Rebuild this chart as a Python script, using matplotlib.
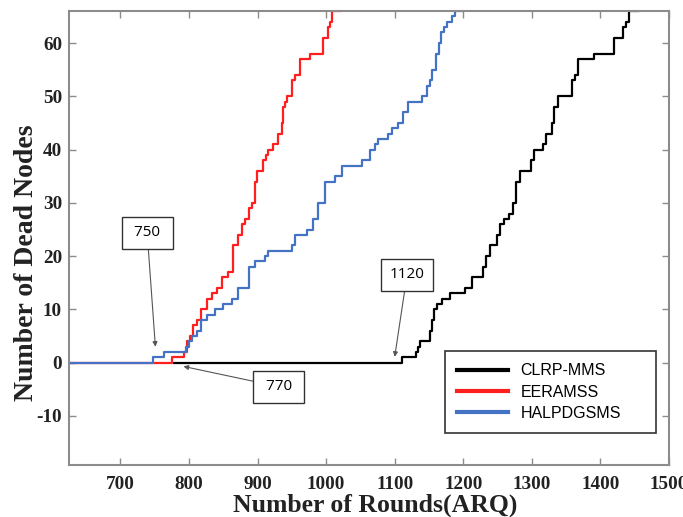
import matplotlib
matplotlib.use('Agg')
import matplotlib.pyplot as plt

plt.rcParams['axes.unicode_minus'] = False

# CLRP-MMS (black)
clrp_x = [778, 1110, 1131, 1134, 1137, 1151, 1155, 1158, 1162, 1169, 1180, 1202, 1212, 1229, 1233,
          1239, 1249, 1253, 1260, 1266, 1272, 1277, 1282, 1299, 1303, 1316, 1320, 1329, 1333, 1338,
          1358, 1363, 1368, 1391, 1420, 1433, 1438, 1442, 1455]
clrp_y = [0, 1, 2, 3, 4, 6, 8, 10, 11, 12, 13, 14, 16, 18, 20,
          22, 24, 26, 27, 28, 30, 34, 36, 38, 40, 41, 43, 45, 48, 50,
          53, 54, 57, 58, 61, 63, 64, 66, 66]

# EERAMSS (red)
eer_x = [625, 775, 792, 797, 802, 806, 812, 817, 826, 833, 841, 848, 857, 864, 872, 877, 882,
         887, 892, 896, 899, 908, 912, 915, 923, 930, 935, 937, 940, 943, 950, 955, 962, 976,
         996, 1003, 1006, 1008, 1020]
eer_y = [0, 1, 2, 4, 5, 7, 8, 10, 12, 13, 14, 16, 17, 22, 24, 26, 27,
         29, 30, 34, 36, 38, 39, 40, 41, 43, 45, 48, 49, 50, 53, 54, 57, 58,
         61, 63, 64, 66, 66]

# HALPDGSMS (blue)
hal_x = [625, 748, 763, 795, 800, 805, 812, 818, 826, 838, 850, 863, 872, 887, 896, 911, 915,
         950, 955, 972, 981, 988, 998, 1013, 1023, 1052, 1064, 1071, 1076, 1090, 1096, 1105,
         1112, 1119, 1140, 1147, 1152, 1155, 1160, 1164, 1168, 1172, 1176, 1183, 1188, 1200]
hal_y = [0, 1, 2, 3, 4, 5, 6, 8, 9, 10, 11, 12, 14, 18, 19, 20, 21,
         22, 24, 25, 27, 30, 34, 35, 37, 38, 40, 41, 42, 43, 44, 45,
         47, 49, 50, 52, 53, 55, 58, 60, 62, 63, 64, 65, 66, 66]

x_ticks = [700, 800, 900, 1000, 1100, 1200, 1300, 1400, 1500]
y_ticks = [-10, 0, 10, 20, 30, 40, 50, 60]

fig = plt.figure(figsize=(6.83, 5.17), dpi=100)
ax = fig.add_axes([0.101, 0.1006, 0.8785, 0.878])

ax.plot(clrp_x, clrp_y, drawstyle='steps-post', color='black', lw=1.6, label='CLRP-MMS')
ax.plot(eer_x, eer_y, drawstyle='steps-post', color='#ff1f1f', lw=1.6, label='EERAMSS')
ax.plot(hal_x, hal_y, drawstyle='steps-post', color='#4472c4', lw=1.6, label='HALPDGSMS')

ax.set_xlim(625, 1500)
ax.set_ylim(-19.2, 66)
ax.set_xticks(x_ticks)
ax.set_yticks(y_ticks)

for s in ax.spines.values():
    s.set_color('#8c8c8c')
    s.set_linewidth(1.5)
ax.tick_params(direction='in', length=5, width=1, color='#8c8c8c', top=True, right=True)
ax.tick_params(axis='x', pad=8)
ax.tick_params(axis='y', pad=5)
for lab in ax.get_xticklabels() + ax.get_yticklabels():
    lab.set_family('Liberation Serif')
    lab.set_fontweight('bold')
    lab.set_fontsize(13.8)
    lab.set_color('#222222')

ax.set_xlabel('Number of Rounds(ARQ)', family='Liberation Serif', fontweight='bold',
              fontsize=18.5, color='#222222')
ax.set_ylabel('Number of Dead Nodes', family='Liberation Serif', fontweight='bold',
              fontsize=20, color='#222222')
ax.xaxis.set_label_coords(0.51, -0.062)
ax.yaxis.set_label_coords(-0.05, 0.445)

box = dict(boxstyle='square,pad=0.55', fc='white', ec='#333333', lw=1)
arr = dict(arrowstyle='-|>', color='#555555', lw=0.8, mutation_scale=7, shrinkA=0, shrinkB=0)
ax.annotate(' 750 ', xy=(751, 3), xytext=(739, 24.4), ha='center', va='center',
            fontsize=11, family='Open Sans', bbox=box, arrowprops=arr)
ax.annotate(' 770 ', xy=(792, -0.7), xytext=(931, -4.5), ha='center', va='center',
            fontsize=11, family='Open Sans', bbox=box, arrowprops=arr)
ax.annotate('1120', xy=(1100, 1.1), xytext=(1118, 16.5), ha='center', va='center',
            fontsize=11, family='Open Sans', bbox=box, arrowprops=arr)

leg = ax.legend(loc='lower left', bbox_to_anchor=(0.627, 0.0705, 0.352, 0.165), mode='expand',
                prop={'family': 'Liberation Sans', 'size': 11.5},
                frameon=True, fancybox=False, edgecolor='black', handlelength=3.2,
                handletextpad=0.75, borderpad=0.75, labelspacing=0.4, borderaxespad=0)
leg.get_frame().set_linewidth(1.2)
for line in leg.get_lines():
    line.set_linewidth(3)

fig.savefig('out.png', dpi=100)
